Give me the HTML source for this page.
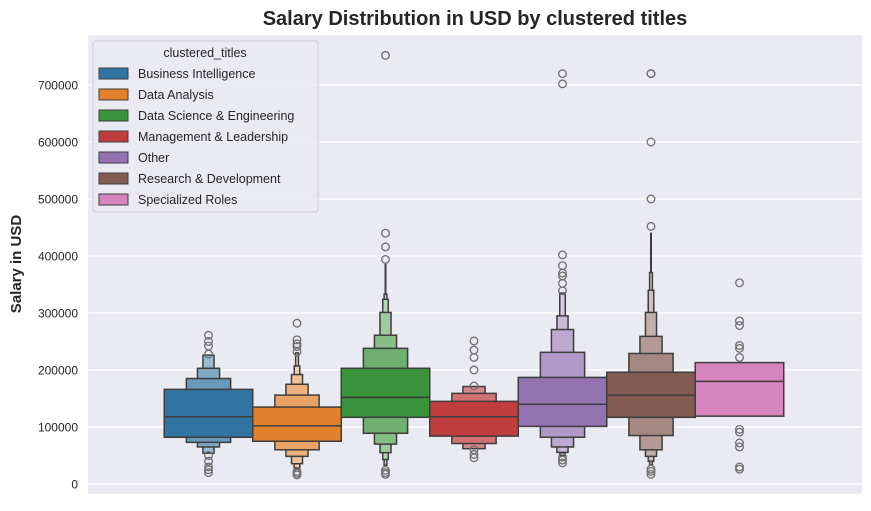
<!DOCTYPE html>
<html><head><meta charset="utf-8"><style>
body{margin:0;background:#fff;font-family:"Liberation Sans",Arial,sans-serif}
</style></head><body>
<svg id="chart" width="871" height="506" xmlns="http://www.w3.org/2000/svg" font-family="Liberation Sans, Arial, sans-serif">
<rect width="871" height="506" fill="#fff"/>
<text x="475" y="25" text-anchor="middle" font-size="20" font-weight="bold" fill="#262626">Salary Distribution in USD by clustered titles</text>
<rect x="88" y="35" width="774" height="459" fill="#eaeaf2"/>
<g id="grid"></g>
<g id="boxes"></g>
<text transform="translate(21,264) rotate(-90)" text-anchor="middle" font-size="15" font-weight="bold" fill="#262626">Salary in USD</text>
<g id="legend"></g>
</svg>
<script>
const categories=["Business Intelligence","Data Analysis","Data Science & Engineering","Management & Leadership","Other","Research & Development","Specialized Roles"];
const colors=["#3274a1","#e1812c","#3a923a","#c03d3e","#9372b2","#845b53","#d684bd"];
const medians=[118000,102000,152000,118000,140000,156000,180000];
// letter-value boxes per level: [low, high]
const levelsBI=[[82000,166000],[73000,185000],[65000,203000],[54000,226000]];
const levelsDA=[[75000,135000],[60000,156000],[48500,175000],[35600,192000],[28600,207000],[26000,230000]];
const levelsDS=[[117000,203000],[89000,238000],[70000,261000],[55000,301000],[43000,324000],[33000,333000]];
const levelsML=[[84000,145000],[71000,159000],[62000,171000]];
const levelsOT=[[101000,187000],[82000,231000],[65000,271000],[55500,295000],[50000,335000]];
const levelsRD=[[117000,196000],[85000,229000],[60000,259000],[48500,301000],[40000,340000],[33000,371000]];
const levelsSR=[[119000,213000]];
const whiskerTop=[null,null,386000,null,null,441000,null];
const outliersBI=[261000,250000,242000,228000,50000,40000,30000,25000,20000];
const outliersDA=[282000,253000,246000,241000,232000,22000,19000,16000];
const outliersDS=[752000,440000,416000,394000,24000,20000,17000];
const outliersML=[251000,235000,222000,200000,172000,60000,52000,46000];
const outliersOT=[720000,702000,402000,383000,370000,365000,352000,339000,47000,42000,37000];
const outliersRD=[720000,720000,600000,500000,452000,26000,22000,17000];
const outliersSR=[353000,286000,278000,243000,238000,222000,96000,91000,72000,65000,30000,26000];
const yTicks=[0,100000,200000,300000,400000,500000,600000,700000];
const allLevels=[levelsBI,levelsDA,levelsDS,levelsML,levelsOT,levelsRD,levelsSR];
const allOut=[outliersBI,outliersDA,outliersDS,outliersML,outliersOT,outliersRD,outliersSR];
const NS="http://www.w3.org/2000/svg";
const y=v=>484-v*0.00057;
const xc=i=>208.5+i*88.5;
const W=88.5;
function mk(t,a,p){const e=document.createElementNS(NS,t);for(const k in a)e.setAttribute(k,a[k]);p.appendChild(e);return e;}
function mix(hex,f){const n=parseInt(hex.slice(1),16);const r=(n>>16)&255,g=(n>>8)&255,b=n&255;
 const m=c=>Math.round(c+(255-c)*f);return `rgb(${m(r)},${m(g)},${m(b)})`;}
const grid=document.getElementById('grid');
yTicks.forEach(t=>{
 const l=mk('line',{x1:88,x2:862,y1:y(t),y2:y(t),stroke:'#fff','stroke-width':1.2},grid);
 
 
 const tx=mk('text',{x:78,y:y(t)+4.5,'text-anchor':'end','font-size':12,fill:'#262626'},grid);
 tx.textContent=String(t);
 
 
});
const boxes=document.getElementById('boxes');
categories.forEach((c,i)=>{
 const g=mk('g',{},boxes);
 
 
 const lv=allLevels[i];
 if(whiskerTop[i]!==null){
  const top=lv[lv.length-1][1];
  mk('line',{x1:xc(i),x2:xc(i),y1:y(top),y2:y(whiskerTop[i]),stroke:'#3d3d3d','stroke-width':2},g);
 }
 for(let k=lv.length-1;k>=0;k--){
  const w=W/Math.pow(2,k);
  const r=mk('rect',{x:xc(i)-w/2,y:y(lv[k][1]),width:w,height:y(lv[k][0])-y(lv[k][1]),fill:k==0?colors[i]:mix(colors[i],Math.min(0.15+k*0.12,0.7)),stroke:'#3d3d3d','stroke-width':1.5},g);
  
  
 }
 mk('line',{x1:xc(i)-W/2,x2:xc(i)+W/2,y1:y(medians[i]),y2:y(medians[i]),stroke:'#3d3d3d','stroke-width':1.5},g);
 allOut[i].forEach(v=>{
  const o=mk('circle',{cx:xc(i),cy:y(v),r:3.8,fill:'none',stroke:'#6e6e6e','stroke-width':1.3},g);
  
  
 });
});
const lg=document.getElementById('legend');
const lb=mk('rect',{x:93,y:41,width:225,height:171,rx:3,fill:'#eaeaf2','fill-opacity':0.85,stroke:'#cccccc'},lg);


const lt=mk('text',{x:205,y:57,'text-anchor':'middle','font-size':12.5,fill:'#262626'},lg);
lt.textContent='clustered_titles';
categories.forEach((c,i)=>{
 const e=mk('g',{},lg);
 
 
 mk('rect',{x:99,y:68+i*21,width:29,height:11,fill:colors[i],stroke:'#3d3d3d','stroke-width':1},e);
 const t=mk('text',{x:138,y:78+i*21,'font-size':12.5,fill:'#262626'},e);
 t.textContent=c;
});
</script>
</body></html>
